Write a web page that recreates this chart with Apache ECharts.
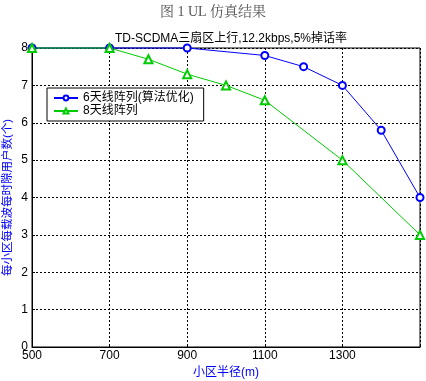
<!DOCTYPE html>
<html><head><meta charset="utf-8">
<script src="https://cdn.jsdelivr.net/npm/echarts@6/dist/echarts.min.js"></script>
<style>html,body{margin:0;padding:0;background:#fff}#c{width:426px;height:381px}</style>
</head><body><div id="c"></div>
<script>
const figCaption = '图 1 UL 仿真结果';
const chartTitle = 'TD-SCDMA三扇区上行,12.2kbps,5%掉话率';
const seriesNames = ['6天线阵列(算法优化)', '8天线阵列'];
const radius6 = [500, 700, 900, 1100, 1200, 1300, 1400, 1500];
const users6 = [8, 8, 8, 7.8, 7.5, 7.0, 5.8, 4.0];
const radius8 = [500, 700, 800, 900, 1000, 1100, 1300, 1500];
const users8 = [8, 8, 7.7, 7.3, 7.0, 6.6, 5.0, 3.0];
const xTicks = [500, 700, 900, 1100, 1300];
const xName = '小区半径(m)';
const yName = '每小区每载波每时隙用户数(个)';

const zip = (a, b) => a.map((v, i) => [v, b[i]]);
const font = "'Liberation Sans','Noto Sans CJK SC',sans-serif";
const chart = echarts.init(document.getElementById('c'));
chart.setOption({
  animation: false,
  backgroundColor: '#fff',
  title: [
    {text: figCaption, left: 'center', top: 0,
     textStyle: {fontFamily: "'Liberation Serif','Noto Serif CJK SC','Noto Sans CJK SC',serif", fontSize: 14, fontWeight: 'normal', color: '#555'}},
    {text: chartTitle, left: 226, textAlign: 'center', top: 28,
     textStyle: {fontFamily: font, fontSize: 12, fontWeight: 'normal', color: '#000'}}
  ],
  grid: {left: 32, top: 48, width: 388, height: 299, show: true, borderColor: '#000', borderWidth: 1,
         backgroundColor: '#fff', containLabel: false, outerBoundsMode: 'none'},
  legend: {
    orient: 'vertical', left: 47, top: 88, itemGap: 1, itemWidth: 24, itemHeight: 6,
    backgroundColor: '#fff', borderColor: '#000', borderWidth: 1, padding: [4, 10, 4, 6],
    textStyle: {fontFamily: font, fontSize: 12, color: '#000'},
    itemStyle: {borderWidth: 1},
    data: seriesNames
  },
  xAxis: {
    type: 'value', min: 500, max: 1500, interval: 200,
    name: xName, nameLocation: 'middle', nameGap: 20, nameMoveOverlap: false,
    nameTextStyle: {fontFamily: font, fontSize: 12, color: '#0000ff'},
    axisLine: {show: true, lineStyle: {color: '#000'}},
    axisTick: {show: true, inside: true, length: 3, lineStyle: {color: '#000'}},
    axisLabel: {fontFamily: font, fontSize: 12, color: '#000', margin: 3,
      formatter: v => xTicks.includes(v) ? String(v) : ''},
    splitLine: {show: true, lineStyle: {color: '#000', type: [2, 2], width: 1}}
  },
  yAxis: {
    type: 'value', min: 0, max: 8, interval: 1,
    name: yName, nameLocation: 'middle', nameGap: 18, nameRotate: 90, nameMoveOverlap: false,
    nameTextStyle: {fontFamily: font, fontSize: 11.5, color: '#0000ff'},
    axisLine: {show: true, lineStyle: {color: '#000'}},
    axisTick: {show: true, inside: true, length: 3, lineStyle: {color: '#000'}},
    axisLabel: {fontFamily: font, fontSize: 12, color: '#000', margin: 4},
    splitLine: {show: true, lineStyle: {color: '#000', type: [2, 2], width: 1}}
  },
  series: [
    {name: seriesNames[0], type: 'line', data: zip(radius6, users6),
     symbol: 'emptyCircle', symbolSize: 7, clip: false,
     lineStyle: {color: '#0000ff', width: 1}, itemStyle: {color: '#0000ff', borderWidth: 1}},
    {name: seriesNames[1], type: 'line', data: zip(radius8, users8),
     symbol: 'emptyTriangle', symbolSize: 8, clip: false,
     lineStyle: {color: '#00cc00', width: 1}, itemStyle: {color: '#00cc00', borderWidth: 1}}
  ]
});
</script></body></html>
